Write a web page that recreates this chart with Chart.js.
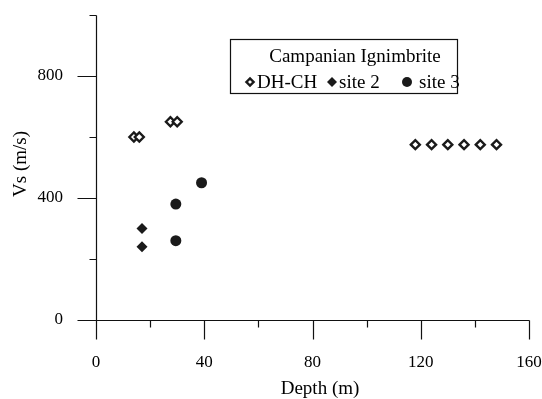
<!DOCTYPE html>
<html>
<head>
<meta charset="utf-8">
<script src="https://cdn.jsdelivr.net/npm/chart.js@4/dist/chart.umd.min.js"></script>
<style>
  html, body { margin: 0; padding: 0; background: #fff; }
  #wrap { width: 542px; height: 399px; }
</style>
</head>
<body>
<div id="wrap"><canvas id="vsChart" width="542" height="399"></canvas></div>
<script>
// Campanian Ignimbrite - Vs vs depth
const dhchDepth = [14, 16, 27.5, 30, 118, 124, 130, 136, 142, 148];
const dhchVs = [600, 600, 650, 650, 575, 575, 575, 575, 575, 575];
const site2Depth = [17, 17];
const site2Vs = [300, 240];
const site3Depth = [29.5, 29.5, 39];
const site3Vs = [380, 260, 450];

const xMajorTicks = [0, 40, 80, 120, 160];
const xMinorTicks = [20, 60, 100, 140];
const yMajorTicks = [0, 400, 800];
const yMinorTicks = [200, 600, 1000];

const legendTitle = 'Campanian Ignimbrite';
const seriesLabels = ['DH-CH', 'site 2', 'site 3'];

const FONT = "'Liberation Serif', 'Times New Roman', serif";
const INK = '#1a1a1a';

function toPoints(xs, ys) {
  return xs.map((x, i) => ({ x: x, y: ys[i] }));
}

function legendMarker(ctx, ds, r, x, y) {
  ctx.save();
  ctx.fillStyle = ds.backgroundColor;
  ctx.strokeStyle = ds.borderColor;
  ctx.lineWidth = ds.borderWidth;
  Chart.helpers.drawPoint(ctx, {
    pointStyle: ds.pointStyle, radius: r, rotation: 0, borderWidth: ds.borderWidth
  }, x, y);
  ctx.restore();
}

// draws axes, ticks, labels, titles and the boxed legend
const axesPlugin = {
  id: 'paperAxes',
  afterDraw(chart) {
    const ctx = chart.ctx;
    const xs = chart.scales.x;
    const ys = chart.scales.y;
    const x0 = Math.round(xs.getPixelForValue(0)) + 0.5;
    const y0 = Math.round(ys.getPixelForValue(0)) + 0.5;
    const major = 19, minor = 7;

    ctx.save();
    ctx.strokeStyle = '#111';
    ctx.lineWidth = 1.2;
    ctx.beginPath();
    // axis lines
    ctx.moveTo(x0, Math.round(ys.getPixelForValue(1000)) + 0.5);
    ctx.lineTo(x0, y0);
    ctx.moveTo(x0, y0);
    ctx.lineTo(Math.round(xs.getPixelForValue(160)) + 0.5, y0);
    // y ticks
    yMajorTicks.forEach(v => {
      const py = Math.round(ys.getPixelForValue(v)) + 0.5;
      ctx.moveTo(x0 - major, py); ctx.lineTo(x0, py);
    });
    yMinorTicks.forEach(v => {
      const py = Math.round(ys.getPixelForValue(v)) + 0.5;
      ctx.moveTo(x0 - minor, py); ctx.lineTo(x0, py);
    });
    // x ticks
    xMajorTicks.forEach(v => {
      const px = Math.round(xs.getPixelForValue(v)) + 0.5;
      ctx.moveTo(px, y0); ctx.lineTo(px, y0 + major);
    });
    xMinorTicks.forEach(v => {
      const px = Math.round(xs.getPixelForValue(v)) + 0.5;
      ctx.moveTo(px, y0); ctx.lineTo(px, y0 + minor);
    });
    ctx.stroke();

    // tick labels
    ctx.fillStyle = '#000';
    ctx.font = '17px ' + FONT;
    ctx.textBaseline = 'middle';
    ctx.textAlign = 'right';
    yMajorTicks.forEach(v => {
      ctx.fillText(String(v), 63, ys.getPixelForValue(v));
    });
    ctx.textAlign = 'center';
    xMajorTicks.forEach(v => {
      ctx.fillText(String(v), xs.getPixelForValue(v), 363);
    });

    // axis titles
    ctx.font = '19px ' + FONT;
    ctx.fillText('Depth (m)', 320, 389);
    ctx.save();
    ctx.translate(21, 164);
    ctx.rotate(-Math.PI / 2);
    ctx.fillText('Vs (m/s)', 0, 0);
    ctx.restore();

    // legend box
    ctx.strokeStyle = '#111';
    ctx.lineWidth = 1.2;
    ctx.strokeRect(230.5, 39.5, 227, 54);
    ctx.textAlign = 'center';
    ctx.fillText(legendTitle, 355, 57);

    const markerX = [250, 332, 407];
    const markerR = [3.6, 5, 5];
    const textX = [257, 339, 419];
    const rowY = 82;
    chart.data.datasets.forEach((ds, i) => {
      legendMarker(ctx, ds, markerR[i], markerX[i], rowY);
    });
    ctx.textAlign = 'left';
    ctx.fillStyle = '#000';
    seriesLabels.forEach((lab, i) => {
      ctx.fillText(lab, textX[i], rowY + 1);
    });
    ctx.restore();
  }
};

const ctx = document.getElementById('vsChart').getContext('2d');
new Chart(ctx, {
  type: 'scatter',
  data: {
    datasets: [
      {
        label: seriesLabels[0],
        data: toPoints(dhchDepth, dhchVs),
        pointStyle: 'rectRot',
        pointRadius: 4.5,
        backgroundColor: '#fff',
        borderColor: INK,
        borderWidth: 2.4
      },
      {
        label: seriesLabels[1],
        data: toPoints(site2Depth, site2Vs),
        pointStyle: 'rectRot',
        pointRadius: 5.5,
        backgroundColor: INK,
        borderColor: INK,
        borderWidth: 0
      },
      {
        label: seriesLabels[2],
        data: toPoints(site3Depth, site3Vs),
        pointStyle: 'circle',
        pointRadius: 5.5,
        backgroundColor: INK,
        borderColor: INK,
        borderWidth: 0
      }
    ]
  },
  options: {
    responsive: false,
    animation: false,
    layout: { padding: { left: 96, right: 13, top: 15, bottom: 79 } },
    plugins: {
      legend: { display: false },
      tooltip: { enabled: false }
    },
    scales: {
      x: { type: 'linear', min: 0, max: 160, display: false },
      y: { type: 'linear', min: 0, max: 1000, display: false }
    }
  },
  plugins: [axesPlugin]
});
</script>
</body>
</html>
